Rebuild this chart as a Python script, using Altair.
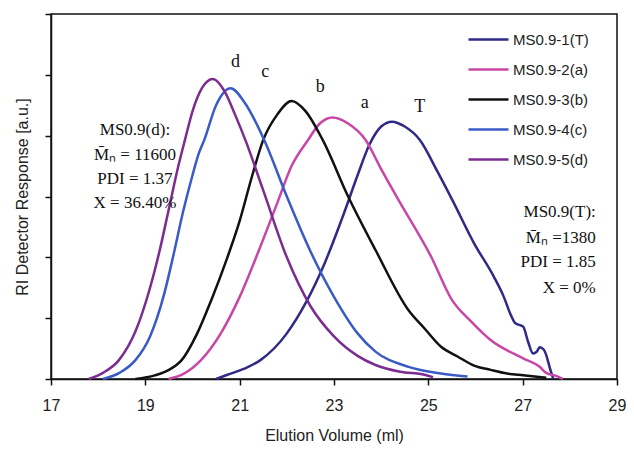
import altair as alt
import pandas as pd

series = ["MS0.9-1(T)", "MS0.9-2(a)", "MS0.9-3(b)", "MS0.9-4(c)", "MS0.9-5(d)"]
colors = ["#2E2A86", "#C846A6", "#111111", "#3A5AC6", "#7B2C90"]

t_x = [20.5, 20.74, 21.1, 21.44, 22.0, 22.4, 22.8, 23.2, 23.5, 23.75, 24.0, 24.23, 24.5, 24.82,
       25.2, 25.51, 25.97, 26.39, 26.6, 26.75, 26.84, 27.01, 27.12, 27.22, 27.3, 27.36, 27.45, 27.6, 27.65]
t_y = [0.0, 0.07, 0.17, 0.31, 0.75, 1.25, 1.9, 2.7, 3.35, 3.85, 4.15, 4.23, 4.15, 3.93,
       3.4, 2.94, 2.23, 1.68, 1.35, 1.05, 0.92, 0.86, 0.6, 0.42, 0.45, 0.52, 0.48, 0.12, 0.0]

a_x = [19.49, 19.8, 20.18, 20.6, 21.0, 21.4, 21.8, 22.1, 22.45, 22.7, 22.97, 23.3, 23.67, 24.0,
       24.37, 25.06, 25.5, 25.9, 26.32, 27.01, 27.36, 27.5, 27.71, 27.85]
a_y = [0.0, 0.08, 0.31, 0.75, 1.35, 2.1, 2.9, 3.5, 3.93, 4.2, 4.3, 4.2, 3.93, 3.45,
       2.94, 2.01, 1.3, 0.95, 0.64, 0.34, 0.2, 0.1, 0.05, 0.0]

b_x = [18.79, 19.2, 19.5, 19.77, 20.1, 20.4, 20.74, 21.0, 21.25, 21.5, 21.8, 22.1, 22.4, 22.76,
       23.3, 23.88, 24.58, 24.92, 25.27, 25.62, 25.97, 26.32, 26.67, 27.01, 27.5]
b_y = [0.0, 0.06, 0.15, 0.31, 0.75, 1.3, 2.0, 2.6, 3.3, 3.93, 4.35, 4.57, 4.4, 3.93,
       3.0, 2.12, 1.13, 0.83, 0.53, 0.37, 0.22, 0.15, 0.09, 0.06, 0.02]

c_x = [18.1, 18.45, 18.79, 19.1, 19.4, 19.6, 19.8, 20.0, 20.13, 20.25, 20.5, 20.81, 21.1, 21.52,
       22.0, 22.5, 23.0, 23.5, 23.88, 24.58, 25.27, 25.83]
c_y = [0.0, 0.1, 0.31, 0.7, 1.4, 2.05, 2.75, 3.35, 3.7, 3.93, 4.5, 4.78, 4.55, 3.93,
       3.0, 2.1, 1.35, 0.75, 0.45, 0.2, 0.09, 0.04]

d_x = [17.8, 18.1, 18.44, 18.8, 19.1, 19.3, 19.5, 19.7, 19.84, 20.0, 20.2, 20.43, 20.7, 20.9,
       21.12, 21.5, 22.0, 22.5, 23.0, 23.5, 23.88, 24.4, 24.92, 25.1]
d_y = [0.0, 0.1, 0.31, 0.8, 1.5, 2.1, 2.8, 3.5, 3.93, 4.4, 4.78, 4.93, 4.7, 4.35,
       3.93, 3.1, 2.0, 1.2, 0.7, 0.38, 0.23, 0.12, 0.07, 0.03]

curve_letters = ["d", "c", "b", "a", "T"]
letter_x = [20.91, 21.54, 22.71, 23.65, 24.82]
letter_y = [5.21, 5.05, 4.80, 4.54, 4.47]

left_note = ["MS0.9(d):", "M\u0304\u2099 = 11600", "PDI = 1.37", "X = 36.40%"]
left_note_x = [18.78, 18.78, 18.78, 18.78]
left_note_y = [4.09, 3.69, 3.28, 2.89]

right_note = ["MS0.9(T):", "M\u0304\u2099 =1380", "PDI = 1.85", "X = 0%"]
right_note_x = [28.55, 28.55, 28.55, 28.55]
right_note_y = [2.74, 2.32, 1.92, 1.50]

x_ticks = [17, 19, 21, 23, 25, 27, 29]
y_ticks = [0, 1, 2, 3, 4, 5, 6]

rows = []
for name, xs, ys in zip(series, [t_x, a_x, b_x, c_x, d_x], [t_y, a_y, b_y, c_y, d_y]):
    for i, (xv, yv) in enumerate(zip(xs, ys)):
        rows.append({"series": name, "x": xv, "y": yv, "order": i})
df = pd.DataFrame(rows)

xscale = alt.Scale(domain=[17, 29], nice=False, zero=False)
yscale = alt.Scale(domain=[0, 6], nice=False, zero=True)

lines = alt.Chart(df).mark_line(strokeWidth=2.5, interpolate="monotone").encode(
    x=alt.X("x:Q", scale=xscale,
            axis=alt.Axis(title="Elution Volume (ml)", values=x_ticks, grid=False,
                          tickSize=6, labelPadding=12, titlePadding=14, labelFlush=False)),
    y=alt.Y("y:Q", scale=yscale,
            axis=alt.Axis(title="RI Detector Response [a.u.]", values=y_ticks, labels=False,
                          grid=False, tickSize=6, titlePadding=14)),
    color=alt.Color("series:N",
                    scale=alt.Scale(domain=series, range=colors),
                    legend=alt.Legend(title=None, orient="none", legendX=416, legendY=4,
                                      symbolType="stroke", symbolSize=1600,
                                      symbolStrokeWidth=2.5, labelFontSize=15,
                                      labelFont="Liberation Sans", labelColor="#222222",
                                      rowPadding=-1, padding=0, labelOffset=3)),
    order="order:Q",
)

letters_df = pd.DataFrame({"t": curve_letters, "x": letter_x, "y": letter_y})
letters = alt.Chart(letters_df).mark_text(font="Liberation Serif", fontSize=18,
                                          color="#111111").encode(
    x=alt.X("x:Q", scale=xscale), y=alt.Y("y:Q", scale=yscale), text="t:N")

left_df = pd.DataFrame({"t": left_note, "x": left_note_x, "y": left_note_y})
left = alt.Chart(left_df).mark_text(font="Liberation Serif", fontSize=17, align="center",
                                    color="#111111").encode(
    x=alt.X("x:Q", scale=xscale), y=alt.Y("y:Q", scale=yscale), text="t:N")

right_df = pd.DataFrame({"t": right_note, "x": right_note_x, "y": right_note_y})
right = alt.Chart(right_df).mark_text(font="Liberation Serif", fontSize=17, align="right",
                                      color="#111111").encode(
    x=alt.X("x:Q", scale=xscale), y=alt.Y("y:Q", scale=yscale), text="t:N")

chart = alt.layer(lines, letters, left, right).properties(
    width=566, height=365,
    autosize=alt.AutoSizeParams(type="none"),
    padding={"left": 43, "top": 6, "right": 9, "bottom": 70},
).configure_view(stroke="#111111", strokeWidth=1.5).configure_axis(
    domainColor="#111111", domainWidth=1.5, tickColor="#111111", tickWidth=1.5,
    labelFont="Liberation Sans", labelFontSize=16, labelColor="#222222",
    titleFont="Liberation Sans", titleFontSize=16, titleColor="#222222", titleFontWeight="normal",
)

chart.save("out.html", embed_options={"renderer": "svg", "actions": False})
